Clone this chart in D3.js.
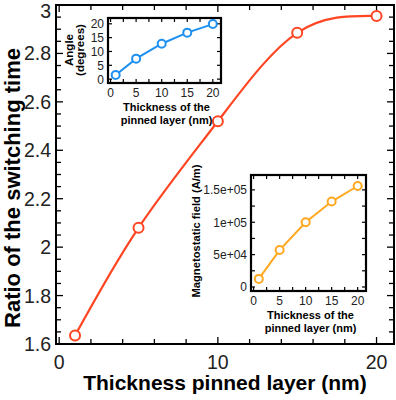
<!DOCTYPE html>
<html>
<head>
<meta charset="utf-8">
<script src="https://cdn.jsdelivr.net/npm/d3@7"></script>
<style>
  body { margin: 0; background: #fff; }
  svg { display: block; font-family: "Liberation Sans", Arial, sans-serif; }
</style>
</head>
<body>
<svg width="396" height="400"></svg>
<script>
// main curve: ratio of switching time vs thickness
const thickness = [1, 5, 10, 15, 20];
const ratio = [1.635, 2.08, 2.52, 2.885, 2.955];
// inset 1: angle (degrees)
const angle = [1.5, 7.4, 12.8, 16.8, 19.9];
// inset 2: magnetostatic field (A/m)
const field = [12500, 57000, 100000, 132000, 156000];

const mainXTicks = [0, 10, 20];
const mainYTicks = [1.6, 1.8, 2, 2.2, 2.4, 2.6, 2.8, 3];
const insetXTicks = [0, 5, 10, 15, 20];
const angleTicks = [0, 5, 10, 15, 20];
const fieldTicks = [0, 50000, 100000, 150000];
const fieldLabels = ["0", "5e+04", "1e+05", "1.5e+05"];

const svg = d3.select("svg");

// ---- main plot
const x = d3.scaleLinear().domain([-0.2, 21.1]).range([56, 394]);
const y = d3.scaleLinear().domain([1.6, 3]).range([344, 5]);

const red = "#ff4522";

// box with inward ticks on all four sides
function frame(g, xs, ys, opt) {
  const [x0, x1] = xs.range();
  const [y0, y1] = ys.range();
  g.append("rect")
    .attr("x", x0).attr("y", y1)
    .attr("width", x1 - x0).attr("height", y0 - y1)
    .attr("fill", "none").attr("stroke", "#000").attr("stroke-width", opt.sw);
  opt.xMinor.forEach(t => {
    const len = opt.xMajor.includes(t) ? opt.major : opt.minor;
    g.append("line").attr("x1", xs(t)).attr("x2", xs(t))
      .attr("y1", y0).attr("y2", y0 - len).attr("stroke", "#000").attr("stroke-width", opt.tw);
    g.append("line").attr("x1", xs(t)).attr("x2", xs(t))
      .attr("y1", y1).attr("y2", y1 + len).attr("stroke", "#000").attr("stroke-width", opt.tw);
  });
  opt.yMinor.forEach(t => {
    const len = opt.yMajor.some(m => Math.abs(m - t) < 1e-9) ? opt.major : opt.minor;
    g.append("line").attr("y1", ys(t)).attr("y2", ys(t))
      .attr("x1", x0).attr("x2", x0 + len).attr("stroke", "#000").attr("stroke-width", opt.tw);
    g.append("line").attr("y1", ys(t)).attr("y2", ys(t))
      .attr("x1", x1).attr("x2", x1 - len).attr("stroke", "#000").attr("stroke-width", opt.tw);
  });
}

const main = svg.append("g");
frame(main, x, y, {
  sw: 2, tw: 1.3, major: 7, minor: 5,
  xMajor: mainXTicks, xMinor: d3.range(0, 21, 2),
  yMajor: mainYTicks, yMinor: d3.range(1.6, 3.001, 0.05)
});

main.selectAll(".xl").data(mainXTicks).enter().append("text")
  .attr("x", d => x(d)).attr("y", 369)
  .attr("text-anchor", "middle").attr("font-size", 19.5).attr("fill", "#222")
  .text(d => d);
main.selectAll(".yl").data(mainYTicks).enter().append("text")
  .attr("x", 51).attr("y", d => Math.max(y(d) + 7, 18))
  .attr("text-anchor", "end").attr("font-size", 19.5).attr("fill", "#222")
  .text(d => d);

main.append("text")
  .attr("x", 225).attr("y", 390)
  .attr("text-anchor", "middle").attr("font-size", 21).attr("font-weight", "bold")
  .text("Thickness pinned layer (nm)");
main.append("text")
  .attr("transform", "translate(20,188) rotate(-90)")
  .attr("text-anchor", "middle").attr("font-size", 22).attr("font-weight", "bold")
  .text("Ratio of the switching time");

main.append("path")
  .datum(thickness.map((t, i) => [t, ratio[i]]))
  .attr("fill", "none").attr("stroke", red).attr("stroke-width", 2.2)
  .attr("d", d3.line().x(d => x(d[0])).y(d => y(d[1])).curve(d3.curveNatural));
main.selectAll(".pt").data(thickness).enter().append("circle")
  .attr("cx", d => x(d)).attr("cy", (d, i) => y(ratio[i]))
  .attr("r", 5).attr("fill", "#fff").attr("stroke", red).attr("stroke-width", 2);

// ---- inset helper
function inset(xr, yr, ydom, vals, color, yTicks, yLabels, yMinor, labelOpt) {
  const g = svg.append("g");
  const xs = d3.scaleLinear().domain([-0.5, 21.6]).range(xr);
  const ys = d3.scaleLinear().domain(ydom).range(yr);
  g.append("rect")
    .attr("x", xr[0]).attr("y", yr[1])
    .attr("width", xr[1] - xr[0]).attr("height", yr[0] - yr[1]).attr("fill", "#fff");
  frame(g, xs, ys, {
    sw: 2.2, tw: 1.2, major: 4, minor: 4,
    xMajor: insetXTicks, xMinor: d3.range(0, 21, 2.5),
    yMajor: yTicks, yMinor: yMinor
  });
  g.selectAll(".xl").data(insetXTicks).enter().append("text")
    .attr("x", d => xs(d)).attr("y", yr[0] + 14)
    .attr("text-anchor", "middle").attr("font-size", 12).attr("fill", "#222")
    .text(d => d);
  g.selectAll(".yl").data(yTicks).enter().append("text")
    .attr("x", xr[0] - 4).attr("y", d => ys(d) + 4.5)
    .attr("text-anchor", "end").attr("font-size", 12).attr("fill", "#222")
    .text((d, i) => yLabels[i]);
  const cx = (xr[0] + xr[1]) / 2 + 2;
  g.append("text").attr("x", cx).attr("y", yr[0] + 28)
    .attr("text-anchor", "middle").attr("font-size", 11).attr("font-weight", "bold")
    .text("Thickness of the");
  g.append("text").attr("x", cx).attr("y", yr[0] + 41)
    .attr("text-anchor", "middle").attr("font-size", 11).attr("font-weight", "bold")
    .text("pinned layer (nm)");
  labelOpt.lines.forEach((t, i) => {
    g.append("text")
      .attr("transform", `translate(${labelOpt.x + i * labelOpt.dx},${labelOpt.y}) rotate(-90)`)
      .attr("text-anchor", "middle").attr("font-size", labelOpt.size).attr("font-weight", "bold")
      .text(t);
  });
  g.append("path")
    .datum(thickness.map((t, i) => [t, vals[i]]))
    .attr("fill", "none").attr("stroke", color).attr("stroke-width", 2)
    .attr("d", d3.line().x(d => xs(d[0])).y(d => ys(d[1])));
  g.selectAll(".pt").data(thickness).enter().append("circle")
    .attr("cx", d => xs(d)).attr("cy", (d, i) => ys(vals[i]))
    .attr("r", 4).attr("fill", "#fff").attr("stroke", color).attr("stroke-width", 2);
}

inset([108, 221], [83, 18], [-1.4, 22.1], angle, "#1e90f0",
  angleTicks, angleTicks.map(String), d3.range(0, 21, 5),
  { lines: ["Angle", "(degrees)"], x: 73, dx: 11, y: 50, size: 11.5 });

inset([251, 366], [291, 175], [-6200, 173000], field, "#ffa820",
  fieldTicks, fieldLabels, d3.range(0, 160001, 25000),
  { lines: ["Magnetostatic field (A/m)"], x: 200, dx: 0, y: 231, size: 11.2 });
</script>
</body>
</html>
